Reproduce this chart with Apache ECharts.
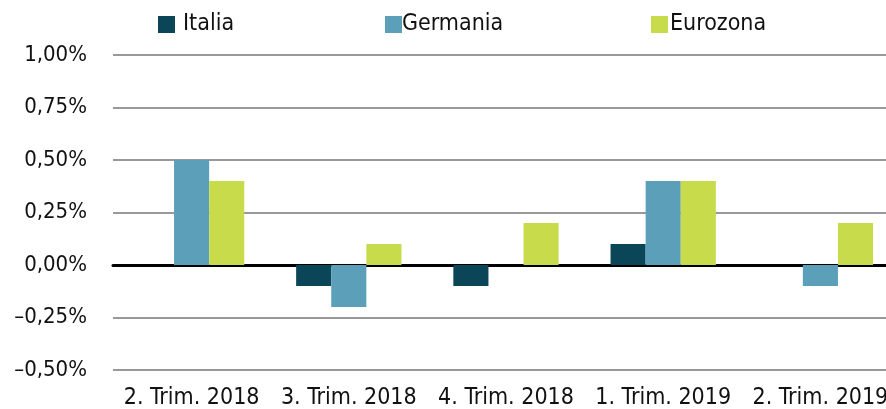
<!DOCTYPE html>
<html><head><meta charset="utf-8">
<script src="https://cdn.jsdelivr.net/npm/echarts@6/dist/echarts.min.js"></script>
<style>html,body{margin:0;padding:0;background:#fff}#c{width:886px;height:409px}</style>
</head><body><div id="c"></div>
<script>
const categories = ['2. Trim. 2018', '3. Trim. 2018', '4. Trim. 2018', '1. Trim. 2019', '2. Trim. 2019'];
const italia = [0, -0.1, -0.1, 0.1, 0];
const germania = [0.5, -0.2, 0, 0.4, -0.1];
const eurozona = [0.4, 0.1, 0.2, 0.4, 0.2];
const yTicks = [-0.5, -0.25, 0, 0.25, 0.5, 0.75, 1.0];

const FONT = '"DejaVu Sans Condensed", "DejaVu Sans", sans-serif';
const chart = echarts.init(document.getElementById('c'));
function leg(left, name, gap) {
  return {left: left, top: 8, data: [name], icon: 'rect', itemWidth: 17, itemHeight: 17,
    textStyle: {fontFamily: FONT, fontSize: 23, color: '#111', padding: [0, 0, 0, gap - 10]}};
}
chart.setOption({
  animation: false,
  legend: [leg(153, 'Italia', 13), leg(380, 'Germania', 5), leg(646, 'Eurozona', 7)],
  grid: {left: 113, width: 786, top: 55, bottom: 39, outerBoundsMode: 'none', containLabel: false},
  xAxis: {
    type: 'category', data: categories,
    axisLine: {onZero: true, lineStyle: {color: '#000', width: 3}},
    axisTick: {show: false},
    axisLabel: {fontFamily: FONT, fontSize: 23, color: '#111', margin: 17,
      interval: 0, hideOverlap: false}
  },
  yAxis: {
    type: 'value', min: -0.5, max: 1.0, interval: 0.25,
    axisLine: {show: false}, axisTick: {show: false},
    splitLine: {lineStyle: {color: '#999', width: 2}},
    axisLabel: {fontFamily: FONT, fontSize: 22, color: '#111', margin: 26,
      formatter: (v) => (v < 0 ? '\u2013' : '') + Math.abs(v).toFixed(2).replace('.', ',') + '%'}
  },
  series: [
    {name: 'Italia', type: 'bar', data: italia, itemStyle: {color: '#0b4558'}, barGap: '0%', barCategoryGap: '33%'},
    {name: 'Germania', type: 'bar', data: germania, itemStyle: {color: '#5c9fb9'}},
    {name: 'Eurozona', type: 'bar', data: eurozona, itemStyle: {color: '#c8dc4b'}}
  ]
});
</script></body></html>
